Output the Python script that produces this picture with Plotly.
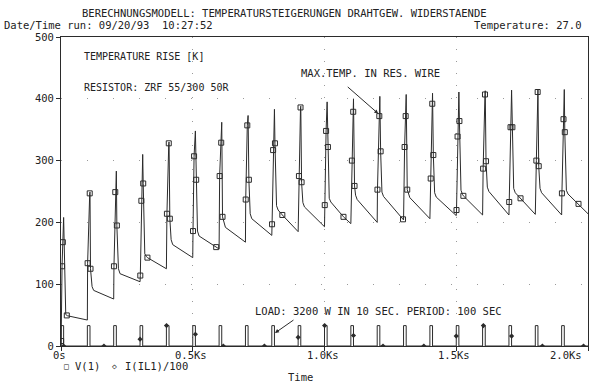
import plotly.graph_objects as go

# ---------------- data ----------------
CYCLE_START = [0, 100, 200, 300, 400, 500, 600, 700, 800, 900,
               1000, 1100, 1200, 1300, 1400, 1500, 1600, 1700, 1800, 1900]
INITIAL_TEMP = 0
PEAK   = [208, 249, 283, 310, 330, 348, 362, 373, 383, 388,
          395, 400, 404, 407, 409, 411, 413, 414, 415, 415]
BOTTOM = [51, 96, 125, 149, 172, 186, 200, 214, 227, 232,
          239, 244, 249, 247, 248, 252, 257, 255, 255, 252]
KNEE   = [49, 90, 117, 145, 164, 178, 192, 206, 220, 225,
          233, 237, 242, 240, 241, 245, 250, 248, 248, 246]
END    = [42, 76, 104, 125, 143, 157, 168, 179, 185, 193,
          198, 200, 204, 206, 211, 212, 212, 213, 212, 214]

# square markers of V(1)
SQ_T = [0.5, 4, 7, 22,
        101, 109, 112,
        201, 206, 212,
        301, 305, 312, 328,
        402, 409, 413,
        501, 505, 513, 589,
        602, 608, 613,
        701, 707, 713,
        801, 805, 812, 840,
        903, 909, 913,
        1001, 1006, 1013, 1072,
        1104, 1109, 1114,
        1201, 1208, 1213, 1298,
        1304, 1308, 1314,
        1403, 1409, 1413,
        1501, 1505, 1512, 1527,
        1602, 1609, 1613,
        1701, 1706, 1713, 1744,
        1804, 1809, 1813,
        1901, 1907, 1912, 1964]
SQ_V = [8, 129, 168, 49.5,
        134, 247, 125,
        129, 249, 195,
        114, 235, 263, 143,
        214, 328, 206,
        186, 307, 269, 160,
        275, 329, 209,
        237, 357, 269,
        197, 317, 328, 212,
        275, 386, 265,
        228, 348, 322, 209,
        300, 379, 259,
        253, 372, 315, 205,
        322, 372, 253,
        271, 392, 309,
        220, 339, 364, 243,
        287, 407, 299,
        233, 354, 354, 239,
        300, 411, 291,
        247, 367, 346, 230]

# load pulses I(IL1)/100
PULSE_START = CYCLE_START
PULSE_LEVEL = 33
PULSE_WIDTH = 10
DOT_T = [10, 163, 300, 400.5, 510, 616, 772, 900, 1000.5, 1110,
         1222, 1377, 1500, 1603, 1710, 1827, 1983]
DOT_V = [0, 0, 11, 33, 19, 0, 0, 14, 33, 17,
         0, 0, 16, 33, 16, 0, 0]

X_TICKS = [0, 500, 1000, 1500, 2000]
X_TICK_TEXT = ["0s", "0.5Ks", "1.0Ks", "1.5Ks", "2.0Ks"]
Y_TICKS = [0, 100, 200, 300, 400, 500]

# ---------------- build traces ----------------
pts = [(0, INITIAL_TEMP)]
for k, t0 in enumerate(CYCLE_START):
    pts += [(t0 + 10, PEAK[k]), (t0 + 18, BOTTOM[k]),
            (t0 + 24, KNEE[k]), (t0 + 100, END[k])]
pts += list(zip(SQ_T, SQ_V))
pts.sort(key=lambda p: p[0])
line_t = [p[0] for p in pts]
line_v = [p[1] for p in pts]

pul_t, pul_v = [], []
for t0 in PULSE_START:
    pul_t += [t0, t0, t0 + PULSE_WIDTH, t0 + PULSE_WIDTH]
    pul_v += [0, PULSE_LEVEL, PULSE_LEVEL, 0]
pul_t.append(2000)
pul_v.append(0)

INK = "#2b2b2b"
FONT = "DejaVu Sans Mono"

fig = go.Figure()
fig.add_trace(go.Scatter(x=pul_t, y=pul_v, mode="lines",
                         line=dict(color=INK, width=1), showlegend=False,
                         name="I(IL1)/100"))
fig.add_trace(go.Scatter(x=DOT_T, y=DOT_V, mode="markers",
                         marker=dict(symbol="diamond", size=4, color=INK),
                         showlegend=False, name="I(IL1)/100"))
fig.add_trace(go.Scatter(x=line_t, y=line_v, mode="lines",
                         line=dict(color=INK, width=1), showlegend=False,
                         name="V(1)"))
fig.add_trace(go.Scatter(x=SQ_T, y=SQ_V, mode="markers",
                         marker=dict(symbol="square-open", size=5,
                                     line=dict(color=INK, width=1), color=INK),
                         showlegend=False, name="V(1)"))

ann = []
tf = dict(family=FONT, size=10.5, color="#222")
tf_small = dict(family=FONT, size=10, color="#222")
# x tick labels
for v, txt in zip(X_TICKS, X_TICK_TEXT):
    if v == 2000:
        ann.append(dict(x=v, y=-0.03, xref="x", yref="paper", text=txt,
                        showarrow=False, xanchor="right", yanchor="middle",
                        xshift=-4, font=tf))
    else:
        ann.append(dict(x=v, y=-0.03, xref="x", yref="paper", text=txt,
                        showarrow=False, xanchor="center", yanchor="middle",
                        xshift=-2, font=tf))
# headers
ann.append(dict(x=0.036, y=1.078, xref="paper", yref="paper",
                text="BERECHNUNGSMODELL: TEMPERATURSTEIGERUNGEN DRAHTGEW. WIDERSTAENDE",
                showarrow=False, xanchor="left", yanchor="middle", font=tf))
ann.append(dict(x=-0.112, y=1.038, xref="paper", yref="paper",
                text="Date/Time run: 09/20/93  10:27:52",
                showarrow=False, xanchor="left", yanchor="middle", font=tf))
ann.append(dict(x=0.991, y=1.038, xref="paper", yref="paper",
                text="Temperature: 27.0",
                showarrow=False, xanchor="right", yanchor="middle", font=tf))
# inside labels
ann.append(dict(x=78, y=469, xref="x", yref="y", text="TEMPERATURE RISE [K]",
                showarrow=False, xanchor="left", yanchor="middle", font=tf_small))
ann.append(dict(x=78, y=419, xref="x", yref="y", text="RESISTOR: ZRF 55/300 50R",
                showarrow=False, xanchor="left", yanchor="middle", font=tf_small))
ann.append(dict(x=903, y=442, xref="x", yref="y", text="MAX.TEMP. IN RES. WIRE",
                showarrow=False, xanchor="left", yanchor="middle", font=tf))
ann.append(dict(x=730, y=57, xref="x", yref="y",
                text="LOAD: 3200 W IN 10 SEC. PERIOD: 100 SEC",
                showarrow=False, xanchor="left", yanchor="middle", font=tf))
# arrows
ann.append(dict(x=1204, y=376, xref="x", yref="y", text="", showarrow=True,
                ax=-32, ay=-28, arrowhead=2, arrowsize=0.8, arrowwidth=1,
                arrowcolor=INK))
ann.append(dict(x=812, y=21, xref="x", yref="y", text="", showarrow=True,
                ax=20, ay=-14, arrowhead=2, arrowsize=0.8, arrowwidth=1,
                arrowcolor=INK))
# legend (text symbols)
ann.append(dict(x=0.011, y=-0.066, xref="paper", yref="paper", text="□",
                showarrow=False, xanchor="center", yanchor="middle",
                font=dict(family=FONT, size=8, color="#222")))
ann.append(dict(x=0.023, y=-0.066, xref="paper", yref="paper", text="V(1)",
                showarrow=False, xanchor="left", yanchor="middle", font=tf))
ann.append(dict(x=0.101, y=-0.066, xref="paper", yref="paper", text="◇",
                showarrow=False, xanchor="center", yanchor="middle",
                font=dict(family=FONT, size=8, color="#222")))
ann.append(dict(x=0.118, y=-0.066, xref="paper", yref="paper", text="I(IL1)/100",
                showarrow=False, xanchor="left", yanchor="middle", font=tf))
# axis title
ann.append(dict(x=0.454, y=-0.1, xref="paper", yref="paper", text="Time",
                showarrow=False, xanchor="center", yanchor="middle", font=tf))

fig.update_layout(
    width=589, height=383,
    margin=dict(l=61, r=1, t=37, b=37),
    paper_bgcolor="white", plot_bgcolor="white",
    font=dict(family=FONT, size=10.5, color="#222"),
    annotations=ann,
    showlegend=False,
    hovermode=False,
)
fig.update_xaxes(range=[0, 2000], tickvals=X_TICKS, showticklabels=False,
                 ticks="outside", ticklen=4, tickcolor=INK,
                 showline=True, linecolor=INK, linewidth=1, mirror=True,
                 showgrid=True, gridcolor="#9a9a9a", gridwidth=1,
                 griddash="1px,11px", zeroline=False)
fig.update_yaxes(range=[0, 500], tickvals=Y_TICKS, ticks="outside", ticklen=4,
                 tickcolor=INK, showline=True, linecolor=INK, linewidth=1,
                 mirror=True, showgrid=True, gridcolor="#9a9a9a", gridwidth=1,
                 griddash="1px,25px", zeroline=False,
                 tickfont=dict(family=FONT, size=10.5, color="#222"))

# remove the browser's default 8px page margin so the figure fills the window
fig.write_html("out.html",
               config={"displayModeBar": False},
               post_script="document.body.style.margin='0';"
                           "document.body.style.overflow='hidden';")
